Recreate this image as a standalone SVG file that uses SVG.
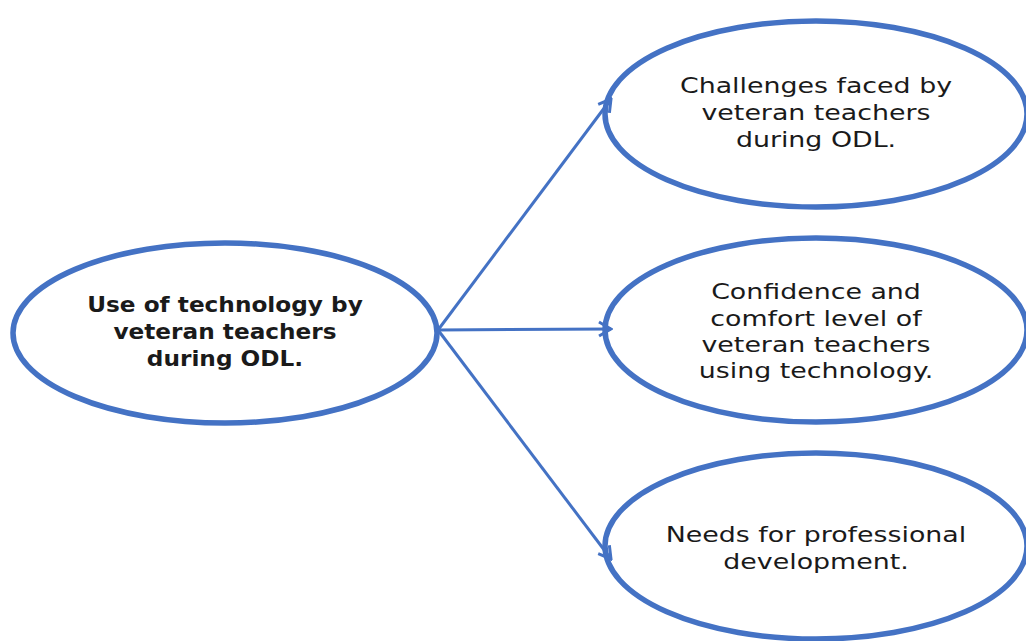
<svg xmlns="http://www.w3.org/2000/svg" width="1026" height="641" viewBox="0 0 1026 641">
  <style>
    .node { fill: #ffffff; stroke: #4472C4; stroke-width: 5.5; }
    .label { font-family: "DejaVu Sans", "Liberation Sans", sans-serif; font-size: 22px; fill: #1a1a1a; text-anchor: middle; }
    .bold { font-weight: bold; }
    .edge { stroke: #4472C4; stroke-width: 3; fill: none; marker-end: url(#chevron); }
  </style>
  <defs>
    <!-- open chevron head for the connectors -->
    <marker id="chevron" viewBox="0 0 16 18" refX="14" refY="9" markerWidth="16" markerHeight="18" markerUnits="userSpaceOnUse" orient="auto">
      <path d="M2,2 L14,9 L2,16" fill="none" stroke="#4472C4" stroke-width="3"/>
    </marker>
  </defs>

  <g id="node-technology">
    <ellipse class="node" cx="225" cy="333" rx="212" ry="90"/>
    <g transform="translate(225,0) scale(1.055,1)">
      <text class="label bold" x="0" y="312">Use of technology by</text>
      <text class="label bold" x="0" y="339">veteran teachers</text>
      <text class="label bold" x="0" y="366">during ODL.</text>
    </g>
  </g>

  <g id="node-challenges">
    <ellipse class="node" cx="816" cy="114" rx="211" ry="93"/>
    <g transform="translate(816,0) scale(1.22,1)">
      <text class="label" x="0" y="93">Challenges faced by</text>
      <text class="label" x="0" y="120">veteran teachers</text>
      <text class="label" x="0" y="147">during ODL.</text>
    </g>
  </g>

  <g id="node-confidence">
    <ellipse class="node" cx="816" cy="330" rx="211" ry="92"/>
    <g transform="translate(816,0) scale(1.22,1)">
      <text class="label" x="0" y="299">Confidence and</text>
      <text class="label" x="0" y="326">comfort level of</text>
      <text class="label" x="0" y="352">veteran teachers</text>
      <text class="label" x="0" y="378">using technology.</text>
    </g>
  </g>

  <g id="node-development">
    <ellipse class="node" cx="816" cy="546" rx="211" ry="93"/>
    <g transform="translate(816,0) scale(1.22,1)">
      <text class="label" x="0" y="542">Needs for professional</text>
      <text class="label" x="0" y="569">development.</text>
    </g>
  </g>

  <!-- connectors drawn last so the heads sit over the ellipse outlines -->
  <g id="connectors">
    <line class="edge" x1="438" y1="330" x2="611" y2="99"/>
    <line class="edge" x1="438" y1="330" x2="611" y2="329"/>
    <line class="edge" x1="438" y1="330" x2="611" y2="559"/>
  </g>
</svg>
